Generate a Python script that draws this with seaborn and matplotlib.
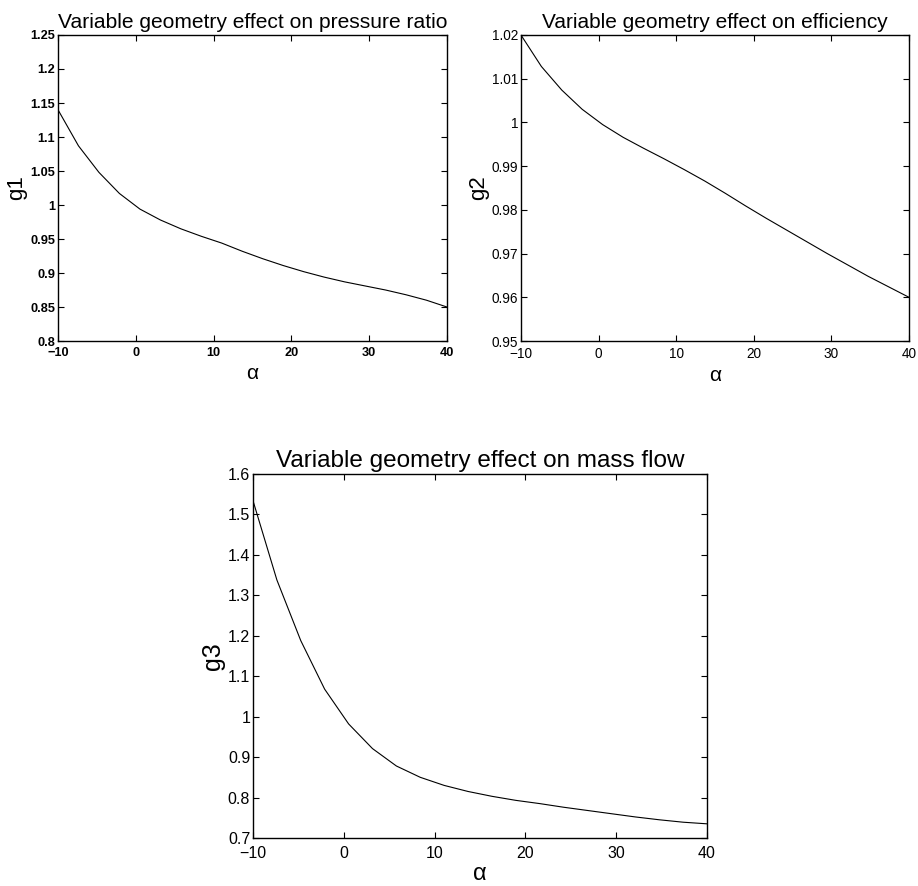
import matplotlib
matplotlib.use("Agg")
import matplotlib.pyplot as plt
import seaborn as sns
import pandas as pd

sns.set_style("white")
plt.rcParams['font.family'] = ['Liberation Sans', 'DejaVu Sans']
plt.rcParams['text.color'] = 'black'
plt.rcParams['axes.labelcolor'] = 'black'
plt.rcParams['xtick.color'] = 'black'
plt.rcParams['ytick.color'] = 'black'

alpha = [-10, -7.37, -4.74, -2.11, 0.53, 3.16, 5.79, 8.42, 11.05, 13.68,
         16.32, 18.95, 21.58, 24.21, 26.84, 29.47, 32.11, 34.74, 37.37, 40]
g1 = [1.140, 1.087, 1.048, 1.017, 0.994, 0.978, 0.965, 0.954, 0.944, 0.932,
      0.921, 0.911, 0.902, 0.894, 0.887, 0.881, 0.875, 0.868, 0.860, 0.850]
g2 = [1.0200, 1.0128, 1.0074, 1.0030, 0.9995, 0.9966, 0.9941, 0.9917, 0.9892, 0.9866,
      0.9838, 0.9809, 0.9781, 0.9754, 0.9727, 0.9700, 0.9674, 0.9648, 0.9624, 0.9600]
g3 = [1.534, 1.338, 1.188, 1.068, 0.982, 0.921, 0.878, 0.850, 0.830, 0.815,
      0.803, 0.793, 0.785, 0.776, 0.768, 0.760, 0.752, 0.745, 0.739, 0.735]

titles = ["Variable geometry effect on pressure ratio",
          "Variable geometry effect on efficiency",
          "Variable geometry effect on mass flow"]
ylabels = ["g1", "g2", "g3"]
xticks = [-10, 0, 10, 20, 30, 40]
xtl = ["\u221210", "0", "10", "20", "30", "40"]
yticks1 = [0.8, 0.85, 0.9, 0.95, 1.0, 1.05, 1.1, 1.15, 1.2, 1.25]
ytl1 = ["0.8", "0.85", "0.9", "0.95", "1", "1.05", "1.1", "1.15", "1.2", "1.25"]
yticks2 = [0.95, 0.96, 0.97, 0.98, 0.99, 1.0, 1.01, 1.02]
ytl2 = ["0.95", "0.96", "0.97", "0.98", "0.99", "1", "1.01", "1.02"]
yticks3 = [0.7, 0.8, 0.9, 1.0, 1.1, 1.2, 1.3, 1.4, 1.5, 1.6]
ytl3 = ["0.7", "0.8", "0.9", "1", "1.1", "1.2", "1.3", "1.4", "1.5", "1.6"]

df = pd.DataFrame({"alpha": alpha, "g1": g1, "g2": g2, "g3": g3})

fig = plt.figure(figsize=(9.18, 8.86), dpi=100)
ax1 = fig.add_axes([0.0632, 0.6151, 0.4237, 0.3454])
ax2 = fig.add_axes([0.5675, 0.6151, 0.4227, 0.3454])
ax3 = fig.add_axes([0.2756, 0.0542, 0.4946, 0.4108])

# ax, column, yticks, yticklabels, ylim, tick fontsize, weight, title fs, label fs, xpad, xlabelpad
specs = [
    (ax1, "g1", yticks1, ytl1, (0.8, 1.25), 9.2, "bold", 15.1, 15, 4, 4),
    (ax2, "g2", yticks2, ytl2, (0.95, 1.02), 9.8, "normal", 15.0, 15, 4, 4),
    (ax3, "g3", yticks3, ytl3, (0.7, 1.6), 11.5, "normal", 17.5, 17, 5.5, 1.5),
]

for i, (ax, col, yt, ytl, ylim, tfs, tfw, ttl_fs, lab_fs, xpad, xlp) in enumerate(specs):
    sns.lineplot(data=df, x="alpha", y=col, ax=ax, color="black", linewidth=0.8)
    ax.set_xlim(-10, 40)
    ax.set_ylim(*ylim)
    ax.set_xticks(xticks)
    ax.set_xticklabels(xtl, fontsize=tfs, fontweight=tfw)
    ax.set_yticks(yt)
    ax.set_yticklabels(ytl, fontsize=tfs, fontweight=tfw)
    ax.tick_params(direction="in", length=4, width=0.8, top=True, right=True,
                   bottom=True, left=True, pad=2, color="black")
    ax.tick_params(axis="x", pad=xpad)
    for s in ax.spines.values():
        s.set_visible(True)
        s.set_color("black")
        s.set_linewidth(1.0)
    ax.set_title(titles[i], fontsize=ttl_fs, pad=5)
    ax.set_xlabel("\u03b1", fontsize=lab_fs, labelpad=xlp)
    ax.set_ylabel(ylabels[i], fontsize=lab_fs + 1, labelpad=2)

fig.savefig("out.png", dpi=100)
